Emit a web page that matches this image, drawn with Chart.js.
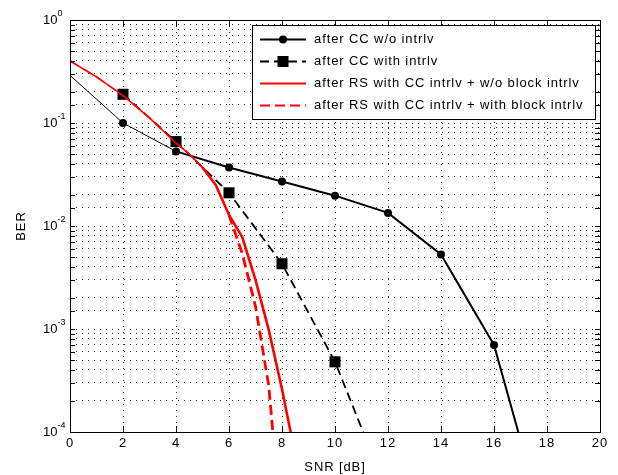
<!DOCTYPE html>
<html lang="en">
<head>
<meta charset="utf-8">
<title>BER vs SNR</title>
<script src="https://cdn.jsdelivr.net/npm/chart.js@4.4.0/dist/chart.umd.min.js"></script>
<style>
  html, body { margin: 0; padding: 0; background: #fff; }
</style>
</head>
<body>
<canvas id="chart" width="618" height="475"></canvas>
<script>
// values (BER on log scale)
const snrCC = [0, 2, 4, 6, 8, 10, 12, 14, 16, 18];
const berCC = [0.29, 0.1, 0.053, 0.037, 0.027, 0.0197, 0.0134, 0.0053, 0.0007, 0.00001];

const snrCCi = [2, 4, 6, 8, 10, 12];
const berCCi = [0.19, 0.066, 0.021, 0.0043, 0.00048, 0.000025];

const snrRS = [0, 1, 2, 3, 4, 4.5, 5, 5.5, 6, 6.5, 7, 7.5, 8, 8.5];
const berRS = [0.40, 0.28, 0.185, 0.112, 0.064, 0.050, 0.037, 0.025, 0.0128, 0.0078, 0.003, 0.00098, 0.00026, 0.00006];

const snrRSb = [0, 1, 2, 3, 4, 4.5, 5, 5.5, 6, 6.5, 7, 7.5, 8];
const berRSb = [0.40, 0.28, 0.185, 0.112, 0.064, 0.050, 0.037, 0.025, 0.0128, 0.0054, 0.00166, 0.00028, 0.00001];

const seriesLabels = [
  'after CC w/o intrlv',
  'after CC with intrlv',
  'after RS with CC intrlv + w/o block intrlv',
  'after RS with CC intrlv + with block intrlv'
];

const xTicks = [0, 2, 4, 6, 8, 10, 12, 14, 16, 18, 20];
const yExponents = [0, -1, -2, -3, -4];

const FONT = '"Liberation Sans", Arial, Helvetica, sans-serif';

function pts(xs, ys) {
  return xs.map((x, i) => ({ x: x, y: ys[i] }));
}

// MATLAB-ish frame, inner ticks, y labels with exponents, legend
const matlabLook = {
  id: 'matlabLook',
  beforeDraw(chart) {
    chart.ctx.letterSpacing = '0.9px';
  },
  afterDraw(chart) {
    const ctx = chart.ctx;
    const area = chart.chartArea;
    const xs = chart.scales.x, ys = chart.scales.y;
    ctx.save();

    // inner ticks
    ctx.strokeStyle = '#000';
    ctx.lineWidth = 1;
    ctx.setLineDash([]);
    ctx.beginPath();
    ys.ticks.forEach(t => {
      const y = Math.round(ys.getPixelForValue(t.value)) + 0.5;
      ctx.moveTo(area.left, y); ctx.lineTo(area.left + 5, y);
      ctx.moveTo(area.right, y); ctx.lineTo(area.right - 5, y);
    });
    xTicks.forEach(v => {
      const x = Math.round(xs.getPixelForValue(v)) + 0.5;
      ctx.moveTo(x, area.bottom); ctx.lineTo(x, area.bottom - 6);
      ctx.moveTo(x, area.top); ctx.lineTo(x, area.top + 6);
    });
    ctx.stroke();

    // box
    ctx.strokeRect(Math.round(area.left) + 0.5, Math.round(area.top) + 0.5,
      Math.round(area.right - area.left), Math.round(area.bottom - area.top));

    // y tick labels 10^n
    ctx.letterSpacing = '0px';
    ctx.fillStyle = '#000';
    ctx.textBaseline = 'middle';
    ctx.textAlign = 'left';
    yExponents.forEach(e => {
      const y = ys.getPixelForValue(Math.pow(10, e));
      const x0 = area.left - 27;
      ctx.font = '13px ' + FONT;
      ctx.fillText('10', x0, y);
      const w = ctx.measureText('10').width;
      ctx.font = '9px ' + FONT;
      ctx.fillText(String(e), x0 + w, y - 6);
    });

    // legend
    const lx = 252, ly = 25, lw = 343, lh = 94;
    ctx.fillStyle = '#fff';
    ctx.fillRect(lx, ly, lw, lh);
    ctx.strokeStyle = '#000';
    ctx.lineWidth = 1;
    ctx.strokeRect(lx + 0.5, ly + 0.5, lw, lh);
    chart.data.datasets.forEach((ds, i) => {
      const y = ly + 14.5 + i * 22;
      ctx.save();
      ctx.strokeStyle = ds.borderColor;
      ctx.lineWidth = ds.legendWidth;
      ctx.setLineDash(ds.borderDash || []);
      ctx.beginPath();
      ctx.moveTo(260, y); ctx.lineTo(306, y);
      ctx.stroke();
      ctx.setLineDash([]);
      ctx.fillStyle = ds.pointBackgroundColor || ds.borderColor;
      if (ds.pointStyle === 'circle') {
        ctx.beginPath();
        ctx.arc(283, y, 4, 0, Math.PI * 2);
        ctx.fill();
      } else if (ds.pointStyle === 'rect') {
        ctx.fillRect(283 - 5.5, y - 5.5, 11, 11);
      }
      ctx.restore();
      ctx.fillStyle = '#000';
      ctx.font = '13px ' + FONT;
      ctx.letterSpacing = '0.9px';
      ctx.textAlign = 'left';
      ctx.textBaseline = 'middle';
      ctx.fillText(ds.label, 314, y);
    });
    ctx.restore();
  }
};

const ctx = document.getElementById('chart').getContext('2d');
const myChart = new Chart(ctx, {
  type: 'line',
  data: {
    datasets: [{
      label: seriesLabels[0],
      data: pts(snrCC, berCC),
      borderColor: '#000',
      backgroundColor: '#000',
      pointBackgroundColor: '#000',
      borderWidth: 2,
      legendWidth: 2,
      segment: { borderWidth: c => c.p0.parsed.x < 4 ? 1 : 2 },
      pointStyle: 'circle',
      pointRadius: c => c.dataIndex === 0 ? 0 : 4,
      pointBorderWidth: 0,
      order: 2
    }, {
      label: seriesLabels[1],
      data: pts(snrCCi, berCCi),
      borderColor: '#000',
      backgroundColor: '#000',
      pointBackgroundColor: '#000',
      borderWidth: 1.8,
      legendWidth: 2,
      borderDash: [9, 5],
      pointStyle: 'rect',
      pointRadius: 7.8,
      pointBorderWidth: 0,
      order: 3
    }, {
      label: seriesLabels[2],
      data: pts(snrRS, berRS),
      borderColor: '#ff0000',
      backgroundColor: '#ff0000',
      borderWidth: 2.6,
      legendWidth: 2,
      segment: { borderWidth: c => c.p0.parsed.x < 5 ? 1.5 : 2.6 },
      pointRadius: 0,
      order: 0
    }, {
      label: seriesLabels[3],
      data: pts(snrRSb, berRSb),
      borderColor: '#ff0000',
      backgroundColor: '#ff0000',
      borderWidth: 2.8,
      legendWidth: 2,
      borderDash: [10, 5],
      segment: { borderWidth: c => c.p0.parsed.x < 6 ? 1.5 : 2.8 },
      pointRadius: 0,
      order: 1
    }]
  },
  options: {
    responsive: false,
    animation: false,
    layout: { padding: { left: 14, right: 18, top: 20, bottom: 0 } },
    plugins: { legend: { display: false }, tooltip: { enabled: false } },
    elements: { line: { tension: 0 } },
    scales: {
      x: {
        type: 'linear',
        min: 0, max: 20,
        afterFit: s => { s.height = 43; },
        afterBuildTicks: s => { s.ticks = xTicks.map(v => ({ value: v })); },
        ticks: {
          color: '#000',
          font: { family: FONT, size: 13 },
          padding: 4,
          maxRotation: 0,
          autoSkip: false
        },
        grid: { color: 'rgba(0,0,0,0.85)', lineWidth: 1, drawTicks: false },
        border: { display: false, dash: [1, 5] },
        title: { display: true, text: 'SNR [dB]', color: '#000', font: { family: FONT, size: 13 }, padding: 0 }
      },
      y: {
        type: 'logarithmic',
        min: 1e-4, max: 1,
        afterFit: s => { s.width = 56; },
        ticks: { display: false, autoSkip: false },
        grid: { color: 'rgba(0,0,0,0.85)', lineWidth: 1, drawTicks: false },
        border: { display: false, dash: [1, 5] },
        title: { display: true, text: 'BER', color: '#000', font: { family: FONT, size: 13 }, padding: 0 }
      }
    }
  },
  plugins: [matlabLook]
});
</script>
</body>
</html>
